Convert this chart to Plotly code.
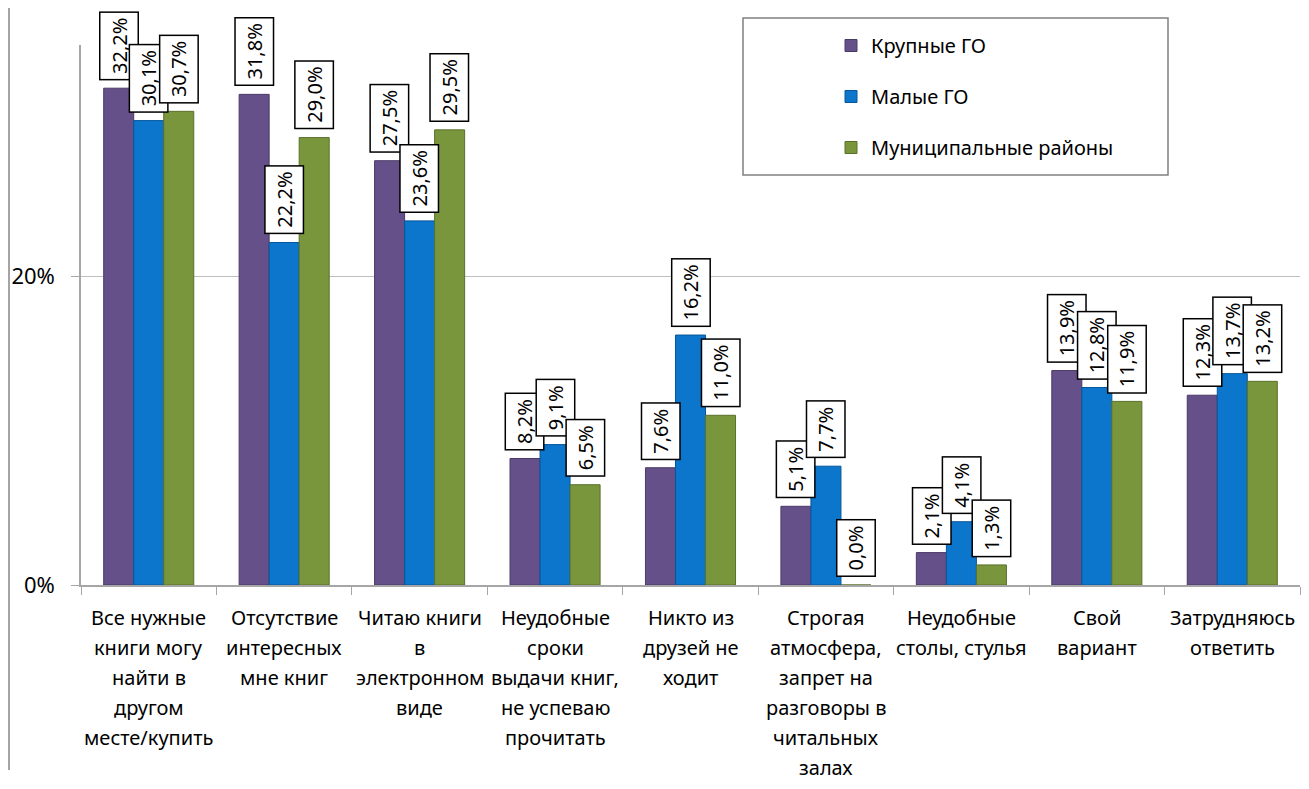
import plotly.graph_objects as go

categories = [
    ["Все нужные", "книги могу", "найти в", "другом", "месте/купить"],
    ["Отсутствие", "интересных", "мне книг"],
    ["Читаю книги", "в", "электронном", "виде"],
    ["Неудобные", "сроки", "выдачи книг,", "не успеваю", "прочитать"],
    ["Никто из", "друзей не", "ходит"],
    ["Строгая", "атмосфера,", "запрет на", "разговоры в", "читальных", "залах"],
    ["Неудобные", "столы, стулья"],
    ["Свой", "вариант"],
    ["Затрудняюсь", "ответить"],
]
series_names = ["Крупные ГО", "Малые ГО", "Муниципальные районы"]
krupnye = [32.2, 31.8, 27.5, 8.2, 7.6, 5.1, 2.1, 13.9, 12.3]
malye = [30.1, 22.2, 23.6, 9.1, 16.2, 7.7, 4.1, 12.8, 13.7]
munic = [30.7, 29.0, 29.5, 6.5, 11.0, 0.0, 1.3, 11.9, 13.2]
y_ticks = [0, 20]
y_tick_labels = ["0%", "20%"]

values = [krupnye, malye, munic]
colors = ["#66508A", "#0B76CB", "#7A963D"]
edge = ["#4A3A66", "#07569A", "#58702A"]

FONT = "Noto Sans"
x_idx = list(range(len(categories)))
bargap = 0.335
bw = (1 - bargap) / 3

# page offset (body margin) compensation
OFF = 8
W, H = 1309 - OFF, 789 - OFF
L, R, T, B = 81 - OFF, 9, 45 - OFF, 204
PW = W - L - R
PH = H - T - B

def px_x(x):
    return (x - OFF - L) / PW

def px_y(y):
    return (H - B - (y - OFF)) / PH

fig = go.Figure()
for k, (name, vals) in enumerate(zip(series_names, values)):
    fig.add_trace(go.Bar(
        x=x_idx, y=vals, name=name, legendgroup=name,
        marker=dict(color=colors[k], line=dict(color=edge[k], width=1)),
        hoverinfo="y",
    ))

annotations = []
for k, vals in enumerate(values):
    for i, v in enumerate(vals):
        annotations.append(dict(
            x=i + (k - 1) * bw, y=v, xref="x", yref="y",
            text=(f"{v:.1f}%").replace(".", ","), textangle=-90,
            showarrow=False, yanchor="bottom", xanchor="center", yshift=8,
            font=dict(family=FONT, size=20, color="black"),
            bgcolor="white", bordercolor="black", borderwidth=1.5, borderpad=5,
        ))

for i, lines in enumerate(categories):
    for j, line in enumerate(lines):
        annotations.append(dict(
            x=i, y=0, xref="x", yref="paper", text=line, showarrow=False,
            xanchor="center", yanchor="middle", yshift=-(32 + 30 * j),
            font=dict(family=FONT, size=20, color="black"),
        ))

fig.update_layout(
    width=W, height=H,
    paper_bgcolor="white", plot_bgcolor="white",
    margin=dict(l=L, r=R, t=T, b=B),
    barmode="group", bargap=bargap, bargroupgap=0,
    font=dict(family=FONT, color="black"),
    showlegend=True,
    legend=dict(
        x=px_x(831), y=px_y(26), xanchor="left", yanchor="top",
        font=dict(family=FONT, size=20, color="black"),
        traceorder="grouped", tracegroupgap=22,
        bgcolor="rgba(0,0,0,0)", borderwidth=0,
    ),
    annotations=annotations,
    shapes=[
        dict(type="rect", xref="paper", yref="paper",
             x0=px_x(743), x1=px_x(1168), y0=px_y(175), y1=px_y(18),
             line=dict(color="#808080", width=1.5), fillcolor="rgba(0,0,0,0)", layer="below"),
        dict(type="line", xref="paper", yref="paper",
             x0=px_x(9), x1=px_x(9), y0=px_y(OFF), y1=px_y(770),
             line=dict(color="#868686", width=1.5)),
    ],
)
fig.update_xaxes(
    type="linear", range=[-0.5, len(categories) - 0.5], automargin=False,
    tickmode="array", tickvals=[i - 0.5 for i in range(len(categories) + 1)],
    showticklabels=False, ticks="outside", ticklen=8, tickcolor="#A6A6A6",
    showline=True, linecolor="#A6A6A6", linewidth=1.5, showgrid=False, zeroline=False,
)
fig.update_yaxes(
    range=[0, 35], tickmode="array", tickvals=y_ticks, ticktext=y_tick_labels,
    automargin=False,
    ticks="outside", ticklen=8, tickcolor="#A6A6A6", ticklabelstandoff=12,
    showline=True, linecolor="#A6A6A6", linewidth=1.5,
    showgrid=True, gridcolor="#BFBFBF", gridwidth=1.2, zeroline=False,
    tickfont=dict(family=FONT, size=22, color="black"),
)
fig.write_html("out.html")
